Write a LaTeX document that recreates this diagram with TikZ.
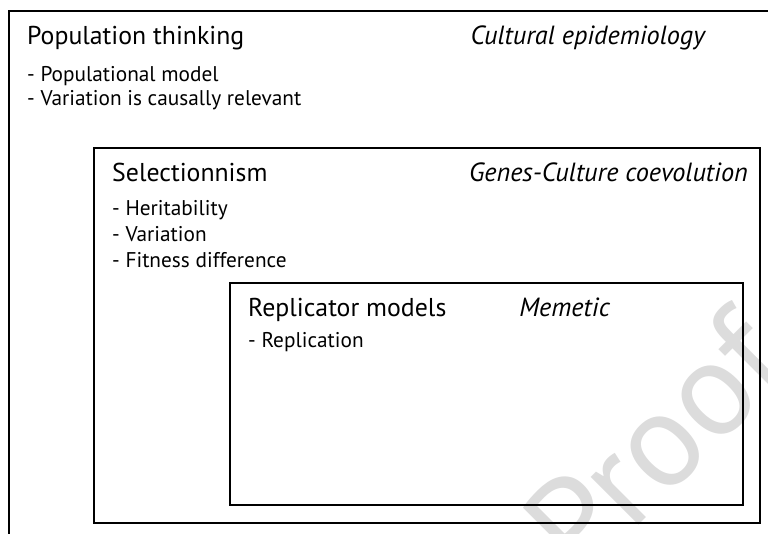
\documentclass[tikz,border=0pt]{standalone}
\usepackage{fontspec}
\setmainfont{PT Sans}
\usepackage{tikz}

\definecolor{wmgray}{RGB}{220,220,220}

\tikzset{
  heading/.style={anchor=base west, inner sep=0pt, font=\fontsize{25.8}{30}\selectfont},
  trait/.style={anchor=base west, inner sep=0pt, font=\fontsize{21.3}{25}\selectfont},
  school/.style={anchor=base east, inner sep=0pt, font=\fontsize{26.3}{30}\selectfont\itshape},
  frame/.style={draw=black, line width=1.4pt}
}

\begin{document}
\begin{tikzpicture}[x=1pt, y=-1pt]
   \useasboundingbox (0,0) rectangle (768,534);
   \clip (0,0) rectangle (768,534);
   \node [wmgray, rotate=45, anchor=base west, inner sep=0pt, font=\fontsize{135}{150}\selectfont] (wm) at (581,583) {Proof}; % watermark
   \draw [frame, line width=2pt] (9,11) rectangle (800,580); % outer box, runs off the page
   \draw [frame] (94,148) rectangle (760,523); % middle box
   \draw [frame] (230,283) rectangle (743,505); % inner box
   % outer box
   \node [heading] (popthink) at (27,45) {Population thinking};
   \node [trait] (popmodel) at (27,82) {- Populational model};
   \node [trait] (causal) at (27,106) {- Variation is causally relevant};
   \node [school] (epidem) at (705,45) {Cultural epidemiology};
   % middle box
   \node [heading] (select) at (112,182) {Selectionnism};
   \node [trait] (herit) at (112,216) {- Heritability};
   \node [trait] (var) at (112,242) {- Variation};
   \node [trait] (fitness) at (112,268) {- Fitness difference};
   \node [school] (coevol) at (748,182) {Genes-Culture coevolution};
   % inner box
   \node [heading] (replmod) at (248,317) {Replicator models};
   \node [trait] (repl) at (248,348) {- Replication};
   \node [school] (memetic) at (610,317) {Memetic};
\end{tikzpicture}
\end{document}
